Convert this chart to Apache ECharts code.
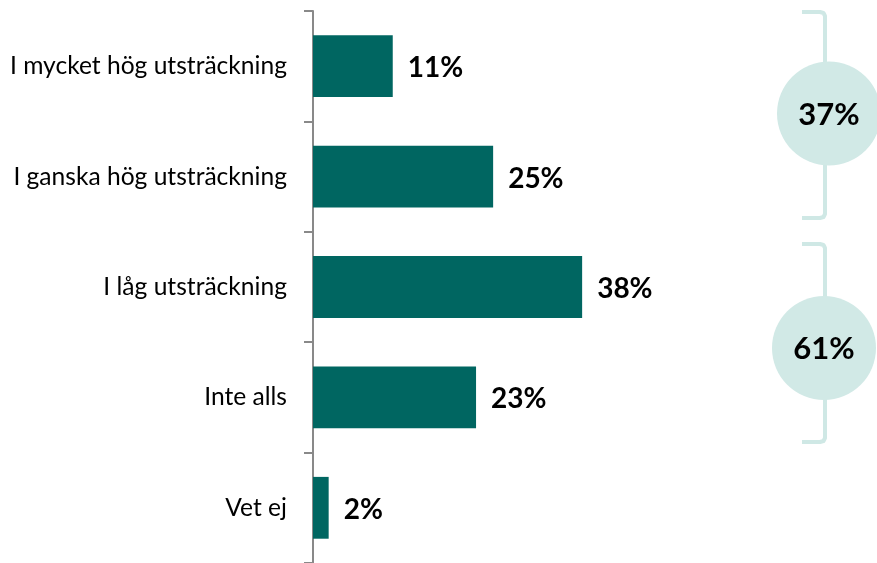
<!DOCTYPE html>
<html>
<head>
<meta charset="utf-8">
<script src="https://cdn.jsdelivr.net/npm/echarts@6/dist/echarts.min.js"></script>
<style>
html,body{margin:0;padding:0;background:#fff;}
#chart{width:877px;height:563px;}
</style>
</head>
<body>
<div id="chart"></div>
<script>
var categories = ['I mycket hög utsträckning', 'I ganska hög utsträckning', 'I låg utsträckning', 'Inte alls', 'Vet ej'];
var values = [11.2, 25.3, 37.8, 22.9, 2.2];
var groupTotals = [37, 61];

var chart = echarts.init(document.getElementById('chart'));
var bracketColor = '#cfe8e5';
var circleColor = '#d1e9e6';

function bracket(x, y1, y2) {
  return {
    type: 'polyline', z: 10, zlevel: 0,
    shape: { points: [[802, y1], [820, y1], [823.5, y1 + 1], [x, y1 + 4], [x, y2 - 4], [823.5, y2 - 1], [820, y2], [802, y2]] },
    style: { stroke: bracketColor, lineWidth: 4, fill: null, lineJoin: 'round' }
  };
}
function bubble(cx, cy, txt) {
  return [
    { type: 'circle', z: 20, shape: { cx: cx, cy: cy, r: 52 }, style: { fill: circleColor } },
    { type: 'text', z: 30, x: cx, y: cy + 1, style: { text: txt, align: 'center', verticalAlign: 'middle', font: 'bold 31px Lato', fill: '#000' } }
  ];
}

chart.setOption({
  animation: false,
  backgroundColor: '#fff',
  grid: { left: 313, top: 11, right: 208, height: 553 },
  xAxis: { type: 'value', min: 0, max: 50, show: false },
  yAxis: {
    type: 'category', data: categories, inverse: true,
    axisLine: { show: true, lineStyle: { color: '#898989', width: 2 } },
    axisTick: { show: true, length: 9, lineStyle: { color: '#898989', width: 2 } },
    axisLabel: { margin: 26, color: '#000', fontFamily: 'Lato', fontSize: 24.6 }
  },
  series: [{
    type: 'bar', data: values, barCategoryGap: '44%',
    itemStyle: { color: '#006661' },
    label: {
      show: true, position: 'right', distance: 15, offset: [0, 2],
      color: '#000', fontFamily: 'Lato', fontWeight: 'bold', fontSize: 28,
      formatter: function (p) { return Math.round(p.value) + '%'; }
    }
  }],
  graphic: [bracket(825, 12, 218), bracket(825, 244, 442)]
    .concat(bubble(829, 113.5, groupTotals[0] + '%'))
    .concat(bubble(824, 348, groupTotals[1] + '%'))
});
</script>
</body>
</html>
